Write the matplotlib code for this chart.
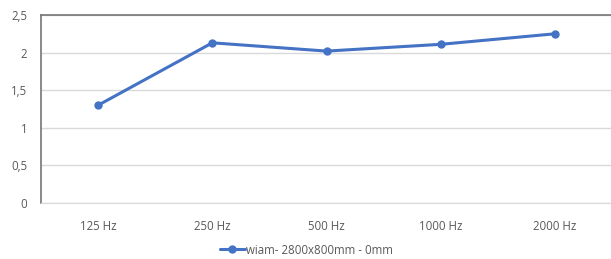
import matplotlib
matplotlib.use("Agg")
import matplotlib.pyplot as plt
from matplotlib.ticker import FuncFormatter

categories = ["125 Hz", "250 Hz", "500 Hz", "1000 Hz", "2000 Hz"]
values = [1.30, 2.13, 2.02, 2.11, 2.25]
series_name = "wiam- 2800x800mm - 0mm"

plt.rcParams["font.family"] = ["Open Sans", "DejaVu Sans"]
text_color = "#595959"

fig = plt.figure(figsize=(6.11, 2.59), dpi=100)
ax = fig.add_axes([41 / 611, 56 / 259, 571 / 611, 188 / 259])

x = range(len(categories))
line, = ax.plot(x, values, color="#4472c4", linewidth=2.2, marker="o",
                markersize=5, label=series_name, solid_capstyle="round")

ax.set_xlim(-0.5, len(categories) - 0.5)
ax.set_ylim(0, 2.5)
ax.set_yticks([0, 0.5, 1, 1.5, 2, 2.5])
ax.yaxis.set_major_formatter(FuncFormatter(lambda v, p: ("%g" % v).replace(".", ",")))
ax.set_xticks(list(x))
ax.set_xticklabels(categories)

ax.grid(axis="y", color="#d9d9d9", linewidth=1)
ax.set_axisbelow(True)
ax.tick_params(length=0, labelsize=8.3, colors=text_color)
ax.tick_params(axis="x", pad=12)
ax.tick_params(axis="y", pad=10)

for s in ["top", "left"]:
    ax.spines[s].set_color("#767676")
    ax.spines[s].set_linewidth(1.2)
ax.spines["bottom"].set_color("#d9d9d9")
ax.spines["right"].set_visible(False)

fig.legend(handles=[line], loc="center", bbox_to_anchor=(306 / 611, 1 - 250 / 259),
           frameon=False, fontsize=8.3, labelcolor=text_color,
           handlelength=2.2, handletextpad=0.05)

fig.savefig("out.png", dpi=100)
